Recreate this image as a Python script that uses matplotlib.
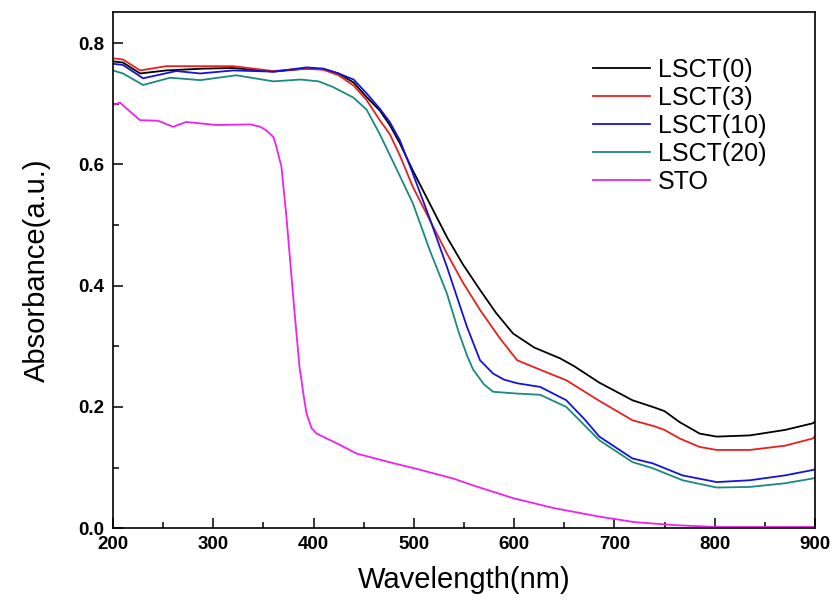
import numpy as np
import matplotlib
matplotlib.use("Agg")
import matplotlib.pyplot as plt
from matplotlib.ticker import MultipleLocator

plt.rcParams['font.family'] = ['Liberation Sans', 'DejaVu Sans']

# values
wl_0 = [200, 210, 227, 253, 290, 320, 360, 393, 410, 425, 440, 453, 466, 476, 486, 499, 516, 533, 549, 566,
        582, 599, 620, 646, 660, 685, 718, 740, 750, 765, 785, 802, 835, 870, 898, 900]
abs_0 = [0.770, 0.768, 0.750, 0.755, 0.758, 0.759, 0.753, 0.758, 0.757, 0.750, 0.735, 0.711, 0.689, 0.665,
         0.635, 0.590, 0.535, 0.480, 0.435, 0.393, 0.355, 0.321, 0.298, 0.280, 0.267, 0.240, 0.211, 0.199,
         0.193, 0.175, 0.156, 0.151, 0.153, 0.162, 0.173, 0.176]

wl_3 = [200, 210, 227, 253, 320, 360, 393, 410, 425, 440, 453, 466, 476, 486, 499, 516, 533, 549, 566, 585,
        603, 625, 652, 685, 718, 740, 750, 765, 785, 802, 835, 870, 898, 900]
abs_3 = [0.775, 0.773, 0.755, 0.762, 0.762, 0.754, 0.758, 0.756, 0.747, 0.730, 0.706, 0.673, 0.650, 0.615,
         0.563, 0.508, 0.453, 0.405, 0.360, 0.315, 0.277, 0.262, 0.244, 0.210, 0.178, 0.168, 0.162,
         0.148, 0.134, 0.129, 0.129, 0.136, 0.148, 0.152]

wl_10 = [200, 210, 230, 263, 287, 320, 360, 393, 410, 425, 440, 453, 466, 476, 486, 499, 516, 533, 553, 566,
         579, 590, 603, 626, 652, 670, 685, 718, 738, 768, 802, 835, 870, 898, 900]
abs_10 = [0.766, 0.764, 0.742, 0.754, 0.750, 0.755, 0.753, 0.760, 0.758, 0.750, 0.740, 0.717, 0.692, 0.670,
          0.640, 0.585, 0.510, 0.431, 0.332, 0.277, 0.255, 0.245, 0.239, 0.233, 0.211, 0.180, 0.151,
          0.115, 0.107, 0.087, 0.076, 0.079, 0.087, 0.096, 0.097]

wl_20 = [200, 210, 230, 257, 287, 323, 360, 387, 405, 419, 440, 453, 466, 480, 499, 516, 533, 545, 553, 559,
         570, 579, 603, 626, 652, 670, 685, 718, 738, 768, 802, 835, 870, 898, 900]
abs_20 = [0.755, 0.750, 0.731, 0.743, 0.739, 0.747, 0.737, 0.740, 0.737, 0.728, 0.710, 0.690, 0.650, 0.602,
          0.536, 0.458, 0.387, 0.322, 0.285, 0.262, 0.237, 0.225, 0.222, 0.220, 0.200, 0.170, 0.145,
          0.109, 0.099, 0.079, 0.067, 0.068, 0.074, 0.082, 0.083]

wl_sto = [200, 207, 215, 227, 245, 260, 273, 285, 303, 337, 347, 353, 360, 363, 368, 373, 380, 386,
          390, 393, 398, 403, 423, 443, 480, 500, 539, 560, 600, 640, 685, 720, 760, 800, 900]
abs_sto = [0.698, 0.702, 0.690, 0.673, 0.672, 0.662, 0.670, 0.668, 0.665, 0.666, 0.662, 0.656, 0.645,
           0.629, 0.596, 0.513, 0.376, 0.266, 0.220, 0.189, 0.165, 0.156, 0.140, 0.123, 0.107, 0.099,
           0.082, 0.070, 0.049, 0.033, 0.019, 0.010, 0.005, 0.002, 0.002]

series = [
    ("LSCT(0)", wl_0, abs_0, "#000000"),
    ("LSCT(3)", wl_3, abs_3, "#e8201c"),
    ("LSCT(10)", wl_10, abs_10, "#1414d8"),
    ("LSCT(20)", wl_20, abs_20, "#1a8a80"),
    ("STO", wl_sto, abs_sto, "#ee22ee"),
]

fig = plt.figure(figsize=(8.35, 6.12), dpi=100)
ax = fig.add_axes([0.1353, 0.137, 0.8407, 0.843])

for name, x, y, c in series:
    ax.plot(x, y, color=c, linewidth=1.3, label=name)

ax.set_xlim(200, 900)
ax.set_ylim(0, 0.851)
ax.xaxis.set_major_locator(MultipleLocator(100))
ax.xaxis.set_minor_locator(MultipleLocator(50))
ax.yaxis.set_major_locator(MultipleLocator(0.2))
ax.yaxis.set_minor_locator(MultipleLocator(0.1))
ax.tick_params(which='both', direction='in', top=False, right=False, width=1.1, labelsize=13.5, pad=6)
ax.tick_params(which='major', length=7.5)
ax.tick_params(which='minor', length=4)
for lbl in ax.get_xticklabels() + ax.get_yticklabels():
    lbl.set_fontweight('bold')
for sp in ax.spines.values():
    sp.set_linewidth(1.2)

ax.set_xlabel("Wavelength(nm)", fontsize=21, labelpad=9)
ax.set_ylabel("Absorbance(a.u.)", fontsize=21, labelpad=20)

ax.legend(loc='upper right', bbox_to_anchor=(0.963, 0.955), frameon=False, fontsize=18,
          handlelength=2.3, handletextpad=0.3, labelspacing=0.16)

fig.savefig("out.png", dpi=100)
